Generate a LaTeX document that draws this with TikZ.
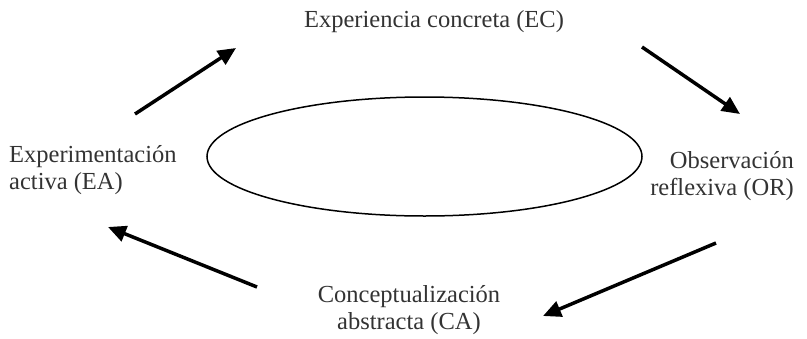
\documentclass[tikz,border=0pt]{standalone}
\usepackage{fontspec}
\setmainfont{Liberation Serif}
\usetikzlibrary{arrows.meta, positioning, shapes.geometric}

\begin{document}
\begin{tikzpicture}[x=1pt,y=-1pt,
  stage/.style={text=black!80, font=\fontsize{24.5}{27}\selectfont, inner sep=0pt},
  flow/.style={-{Triangle[length=18pt,width=16pt]}, line width=3.5pt}]
\useasboundingbox (0,0) rectangle (807,338);

\node[draw, ellipse, line width=1.5pt, minimum width=435pt, minimum height=119pt] (0) at (424.5,156.5) {};

% base of a two-line node = baseline of its last line
\node[stage, anchor=base] (1) at (434,27) {Experiencia concreta (EC)};
\node[stage, align=right, anchor=base east] (2) at (794,195) {Observación\\reflexiva (OR)};
\node[stage, align=center, anchor=base] (3) at (409,329) {Conceptualización\\abstracta (CA)};
\node[stage, align=left, anchor=base west] (4) at (9,189) {Experimentación\\activa (EA)};

%\draw[flow] (4) -- (1);
\coordinate (a) at (135,114);
\coordinate (b) at (236,48);
\coordinate (c) at (642,47);
\coordinate (d) at (740,114);
\coordinate (e) at (716,243);
\coordinate (f) at (543,316);
\coordinate (g) at (257,287);
\coordinate (h) at (108,227);

\draw[flow] (a) -- (b);
\draw[flow] (c) -- (d);
\draw[flow] (e) -- (f);
\draw[flow] (g) -- (h);

\end{tikzpicture}
\end{document}
